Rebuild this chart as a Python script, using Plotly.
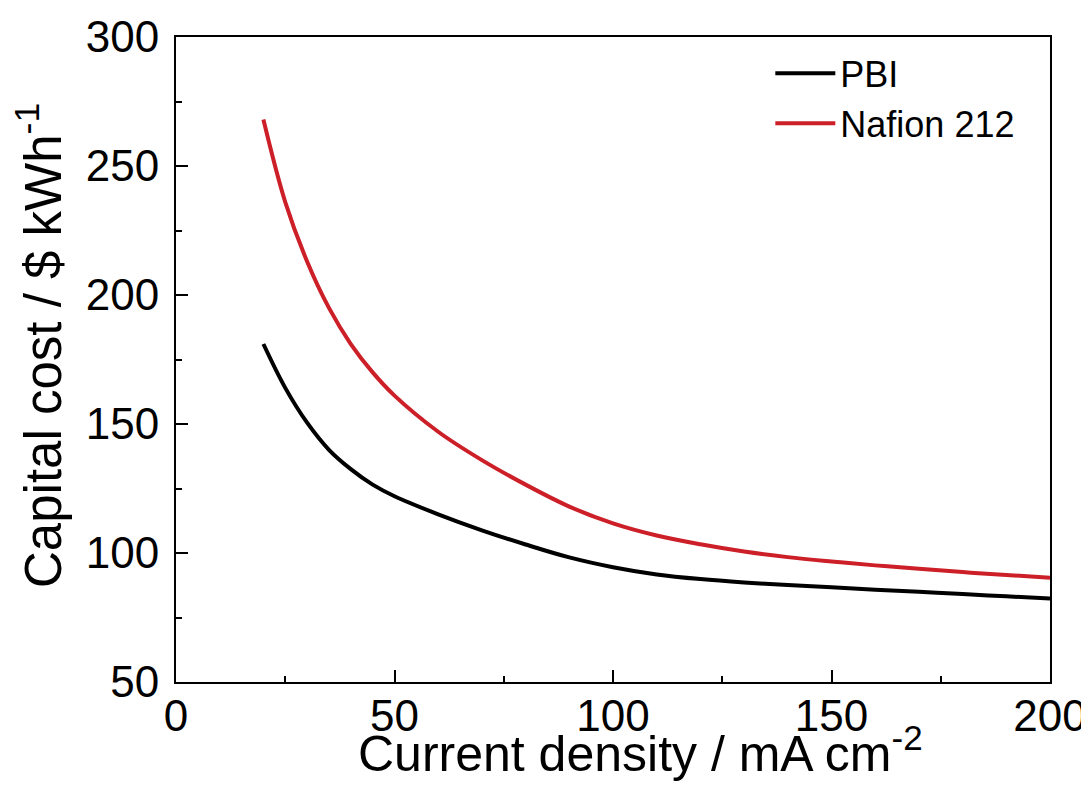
import plotly.graph_objects as go

current_density = [20, 25, 30, 35, 40, 45, 50, 60, 70, 80, 90, 100, 110, 120, 130, 140, 150, 160, 170, 180, 190, 200]
pbi_cost = [181, 164, 150.5, 140, 132.5, 126.5, 122, 115, 108.8, 103.3, 98.3, 94.5, 91.7, 89.9, 88.6, 87.6, 86.7, 85.8, 85.0, 84.1, 83.2, 82.4]
nafion_cost = [268, 236, 213, 195, 181, 170, 161, 147, 136, 126.5, 118, 111.5, 106.8, 103.4, 100.6, 98.4, 96.7, 95.2, 93.9, 92.6, 91.5, 90.4]

series_names = ["PBI", "Nafion 212"]
series_colors = ["#000000", "#cc1f28"]

x_ticks = [0, 50, 100, 150, 200]
y_ticks = [50, 100, 150, 200, 250, 300]

x_title = "Current density / mA cm<sup>-2</sup>"
y_title = "Capital cost / $ kWh<sup>-1</sup>"

font_family = "Arial, Liberation Sans, sans-serif"

fig = go.Figure()
for name, vals, col in zip(series_names, [pbi_cost, nafion_cost], series_colors):
    fig.add_trace(go.Scatter(
        x=current_density, y=vals, mode="lines", name=name,
        line=dict(color=col, width=4, shape="spline", smoothing=1.0),
    ))

axis_common = dict(
    showline=True, linecolor="black", linewidth=2, mirror=True,
    ticks="inside", ticklen=12, tickwidth=2, tickcolor="black",
    showgrid=False, zeroline=False, automargin=False,
    tickfont=dict(family=font_family, size=44, color="black"),
)

fig.update_xaxes(
    range=[0, 200], tickvals=x_ticks, ticklabelstandoff=-6,
    minor=dict(ticks="inside", ticklen=6, tickwidth=2, tickcolor="black", dtick=25, tick0=0),
    **axis_common,
)
fig.update_yaxes(
    range=[50, 300], tickvals=y_ticks, ticklabelstandoff=6,
    minor=dict(ticks="inside", ticklen=6, tickwidth=2, tickcolor="black", dtick=25, tick0=50),
    **axis_common,
)

fig.add_annotation(
    text=x_title, xref="paper", yref="paper", x=0.532, y=-0.106,
    xanchor="center", yanchor="middle", showarrow=False,
    font=dict(family=font_family, size=50, color="black"),
)
fig.add_annotation(
    text=y_title, xref="paper", yref="paper", x=-0.156, y=0.522,
    xanchor="center", yanchor="middle", textangle=-90, showarrow=False,
    font=dict(family=font_family, size=51, color="black"),
)

fig.update_layout(
    width=1089, height=794,
    margin=dict(l=168, r=47, t=29, b=120),
    plot_bgcolor="white", paper_bgcolor="white",
    showlegend=True,
    legend=dict(
        x=0.68, y=0.99, xanchor="left", yanchor="top",
        font=dict(family=font_family, size=36, color="black"),
        bgcolor="rgba(0,0,0,0)", borderwidth=0,
        itemwidth=60, tracegroupgap=0,
    ),
)

fig.write_html("out.html")
